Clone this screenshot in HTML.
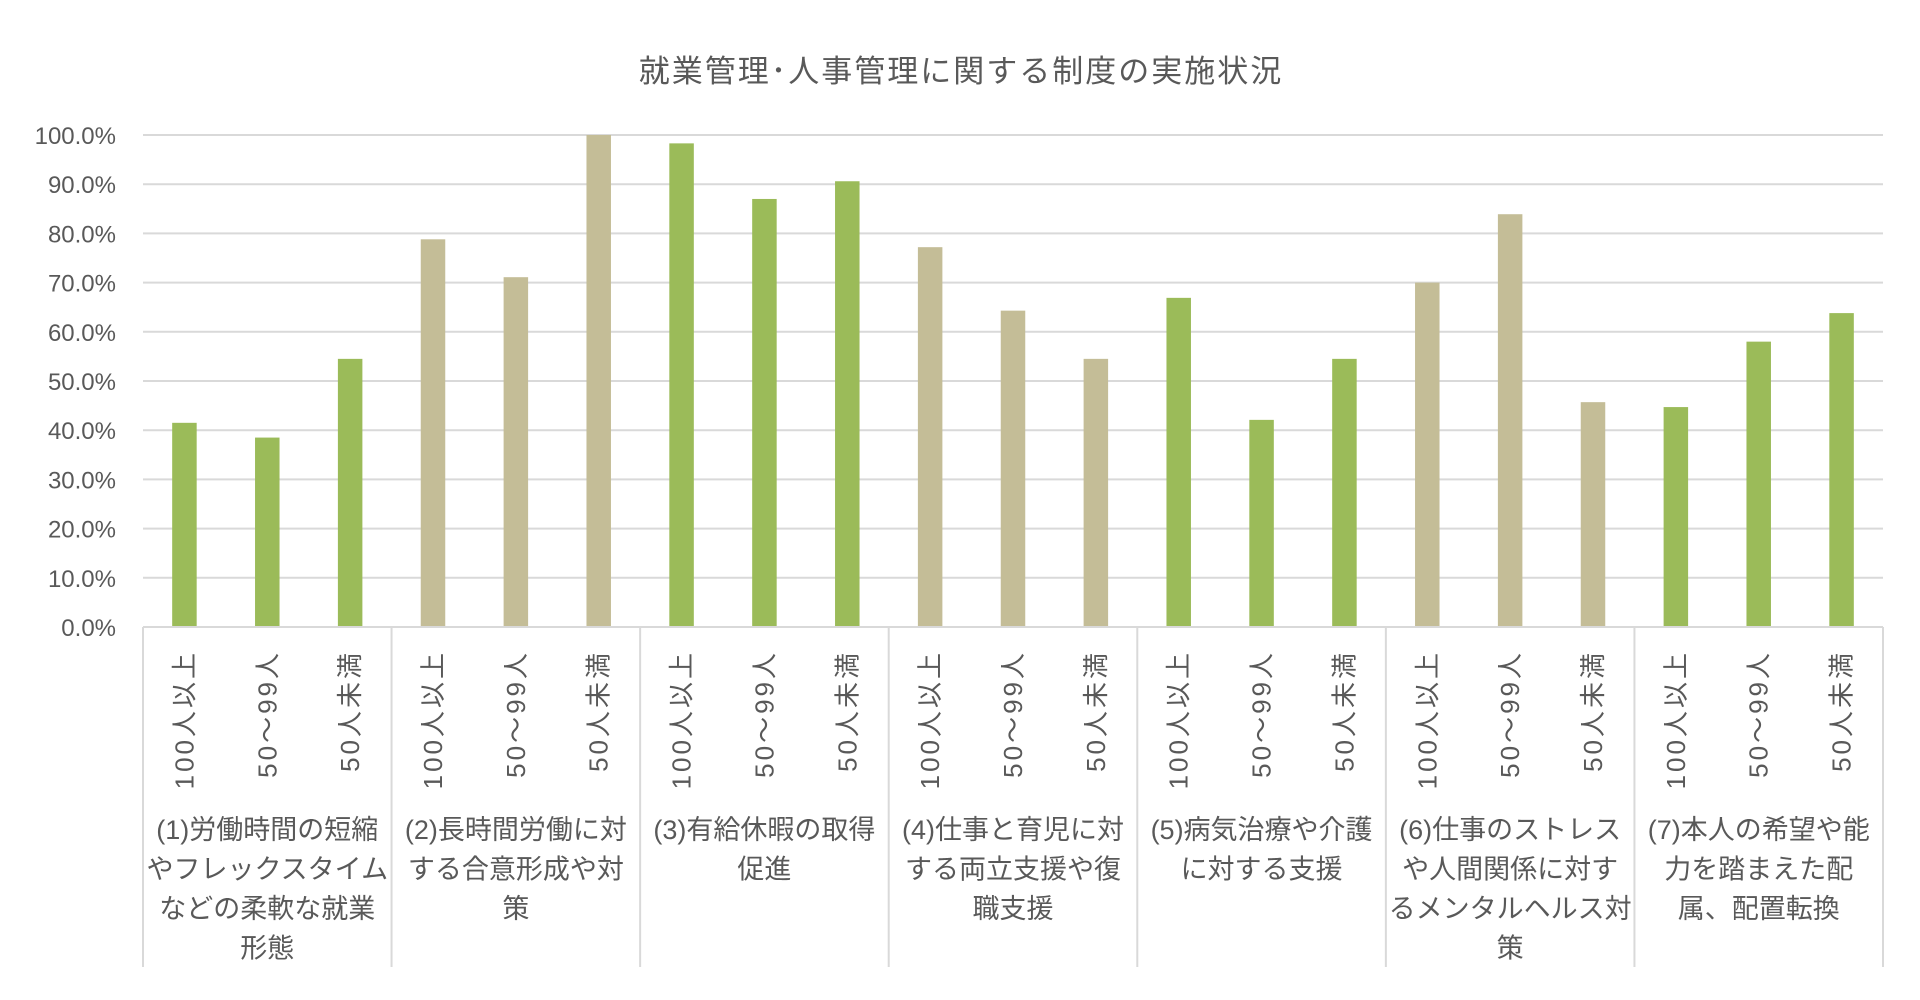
<!DOCTYPE html>
<html><head><meta charset="utf-8"><style>
html,body{margin:0;padding:0;background:#fff;}
svg{display:block;font-family:"Liberation Sans","Noto Sans CJK JP",sans-serif;}
</style></head><body>
<svg id="chart" width="1920" height="1000"></svg>
<script>
const groupLabels=[
 ["(1)労働時間の短縮","やフレックスタイム","などの柔軟な就業","形態"],
 ["(2)長時間労働に対","する合意形成や対","策"],
 ["(3)有給休暇の取得","促進"],
 ["(4)仕事と育児に対","する両立支援や復","職支援"],
 ["(5)病気治療や介護","に対する支援"],
 ["(6)仕事のストレス","や人間関係に対す","るメンタルヘルス対","策"]
 ,["(7)本人の希望や能","力を踏まえた配","属、配置転換"]
];
const subLabels=["100人以上","50～99人","50人未満"];
const values=[
 [41.5,38.5,54.5],
 [78.8,71.1,100],
 [98.3,87.0,90.6],
 [77.2,64.3,54.5],
 [66.9,42.1,54.5],
 [70.0,83.9,45.7],
 [44.7,58.0,63.8]
];
const tickValues=[0,10,20,30,40,50,60,70,80,90,100];
const groupColors=["#9BBB59","#C4BD97"];

const NS="http://www.w3.org/2000/svg";
const svg=document.getElementById("chart");
const X0=143,X1=1883,Y0=627,Y1=135;
const gw=(X1-X0)/values.length, sw=gw/3, bw=24.5;
function y(v){return Y0-(v/100)*(Y0-Y1);}
function xc(g,i){return X0+g*gw+(i+0.5)*sw;}
function mk(tag,attrs,parent){const e=document.createElementNS(NS,tag);for(const k in attrs)e.setAttribute(k,attrs[k]);(parent||svg).appendChild(e);return e;}

const title=mk("text",{x:961,y:82,"text-anchor":"middle","font-size":31,"letter-spacing":2,fill:"#595959"});
title.textContent="就業管理･人事管理に関する制度の実施状況";



tickValues.forEach(t=>{
 const gl=mk("line",{x1:X0,x2:X1,y1:y(t),y2:y(t),stroke:"#d9d9d9","stroke-width":2});
 
 
 const tl=mk("text",{x:116,y:y(t)+9,"text-anchor":"end","font-size":24,fill:"#595959"});
 tl.textContent=t.toFixed(1)+"%";
 
 
});

values.forEach((vals,g)=>{
 vals.forEach((v,i)=>{
  const r=mk("rect",{x:xc(g,i)-bw/2,y:y(v),width:bw,height:Y0-y(v),fill:groupColors[g%2]});
  
  
  const lx=xc(g,i)+9, ly=650;
  const st=mk("text",{x:lx,y:ly,transform:`rotate(-90 ${lx} ${ly})`,"text-anchor":"end","font-size":26,"letter-spacing":3,fill:"#595959"});
  st.textContent=subLabels[i];
  
  
 });
 groupLabels[g].forEach((line,k)=>{
  const ct=mk("text",{x:X0+(g+0.5)*gw,y:839+k*39.5,"text-anchor":"middle","font-size":27,fill:"#595959"});
  ct.textContent=line;
  
  
 });
});
for(let g=0;g<=values.length;g++){
 const sep=mk("line",{x1:X0+g*gw,x2:X0+g*gw,y1:Y0,y2:967,stroke:"#d9d9d9","stroke-width":2});
 
 
}
const ax=mk("line",{x1:X0,x2:X1,y1:Y0,y2:Y0,stroke:"#d9d9d9","stroke-width":2});


</script>
</body></html>
